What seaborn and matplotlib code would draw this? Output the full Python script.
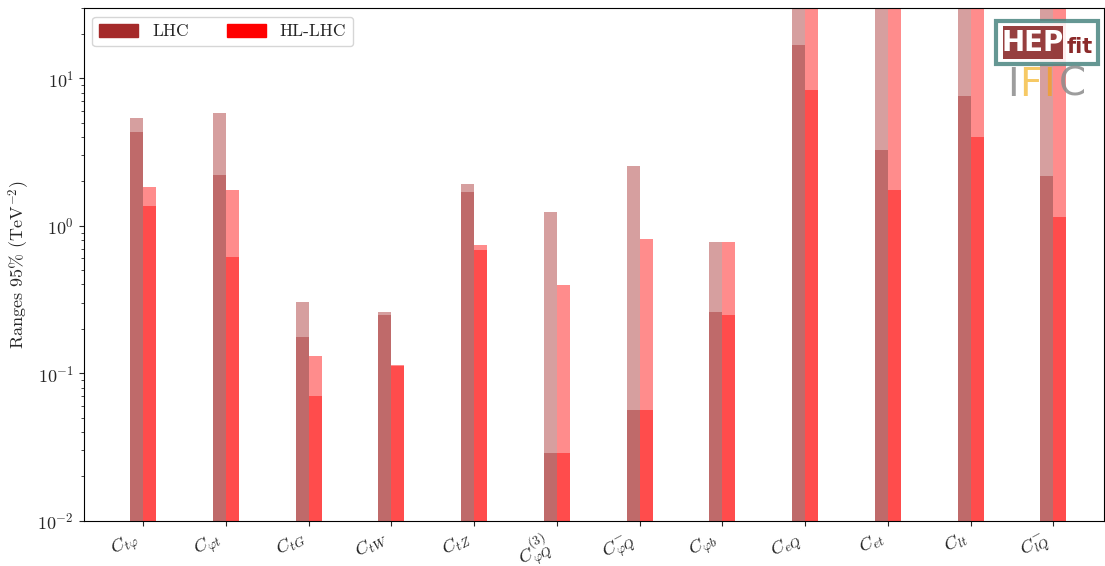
import numpy as np
import pandas as pd
import matplotlib
import matplotlib.pyplot as plt
from matplotlib.patches import Patch, Rectangle
import seaborn as sns

# Wilson coefficients on the x axis
coeffs = [r'$C_{t\varphi}$', r'$C_{\varphi t}$', r'$C_{tG}$', r'$C_{tW}$', r'$C_{tZ}$',
          r'$C_{\varphi Q}^{(3)}$', r'$C_{\varphi Q}^{-}$', r'$C_{\varphi b}$',
          r'$C_{eQ}$', r'$C_{et}$', r'$C_{lt}$', r'$C_{lQ}^{-}$']

# 95% ranges (TeV^-2): global (marginalised) and individual fits
lhc_global = [5.39, 5.82, 0.304, 0.26, 1.91, 1.24, 2.56, 0.78, 60, 60, 60, 60]
lhc_indiv = [4.34, 2.20, 0.177, 0.249, 1.69, 0.0286, 0.0565, 0.26, 16.9, 3.24, 7.57, 2.17]
hl_global = [1.83, 1.74, 0.130, 0.113, 0.745, 0.395, 0.818, 0.78, 60, 60, 60, 60]
hl_indiv = [1.36, 0.61, 0.070, 0.112, 0.68, 0.0286, 0.0565, 0.25, 8.3, 1.74, 4.02, 1.15]

colliders = ['LHC', 'HL-LHC']
colors = {'LHC': 'brown', 'HL-LHC': 'red'}

glob = pd.DataFrame({
    'coeff': coeffs * 2,
    'collider': ['LHC'] * 12 + ['HL-LHC'] * 12,
    'range': lhc_global + hl_global,
})
indiv = pd.DataFrame({
    'coeff': coeffs * 2,
    'collider': ['LHC'] * 12 + ['HL-LHC'] * 12,
    'range': lhc_indiv + hl_indiv,
})

sns.set_style('ticks')
plt.rcParams['font.family'] = ['cmr10', 'DejaVu Serif']
plt.rcParams['mathtext.fontset'] = 'cm'
plt.rcParams['axes.formatter.use_mathtext'] = True
plt.rcParams['axes.unicode_minus'] = False

fig, ax = plt.subplots(figsize=(11.05, 5.66), dpi=100)
fig.subplots_adjust(left=0.0756, right=0.999, top=0.986, bottom=0.08)
ax.set_yscale('log')

for df in (glob, indiv):
    sns.barplot(data=df, x='coeff', y='range', hue='collider', order=coeffs,
                hue_order=colliders, palette=colors, width=0.314, saturation=1,
                alpha=0.45, errorbar=None, legend=False, ax=ax, linewidth=0)

ax.set_xlim(-0.72, 11.61)
ax.set_ylim(1e-2, 30)
ax.set_xlabel('')
ax.set_ylabel(r'Ranges 95% (TeV$^{-2}$)', fontsize=13)
ax.set_xticks(range(len(coeffs)))
ax.set_xticklabels(coeffs, rotation=28, ha='right', fontsize=13.5)
ax.tick_params(axis='x', pad=2)
ax.tick_params(axis='y', labelsize=13)
for s in ax.spines.values():
    s.set_visible(True)
    s.set_color('black')

handles = [Patch(color=colors[c], label=c) for c in colliders]
ax.legend(handles=handles, loc='upper left', ncol=2, fontsize=12.5,
          handlelength=2.25, handleheight=0.8, columnspacing=2.2,
          frameon=True, fancybox=True)

# HEPfit / IFIC logo (approximation)
fig.add_artist(Rectangle((996 / 1105, 1 - 64 / 566), 102 / 1105, 43 / 566,
                         transform=fig.transFigure, facecolor='white',
                         edgecolor='#4a8580', linewidth=3, alpha=0.85))
fig.add_artist(Rectangle((1003 / 1105, 1 - 59 / 566), 60 / 1105, 33 / 566,
                         transform=fig.transFigure, facecolor='#8b2a2a',
                         edgecolor='none', alpha=0.9))
fig.text(1033 / 1105, 1 - 43 / 566, 'HEP', color='white', fontsize=20,
         fontweight='bold', family='DejaVu Sans', ha='center', va='center')
fig.text(1080 / 1105, 1 - 47 / 566, 'fit', color='#8b2a2a', fontsize=15,
         fontweight='bold', family='DejaVu Sans', ha='center', va='center')
for x, ch, col in [(1013, 'I', '#8c8c8c'), (1030, 'F', '#f5c04a'),
                   (1049, 'I', '#f0a030'), (1072, 'C', '#8c8c8c')]:
    fig.text(x / 1105, 1 - 85 / 566, ch, color=col, fontsize=28, alpha=0.85,
             family='DejaVu Sans', ha='center', va='center')

fig.savefig('out.png', dpi=100)
